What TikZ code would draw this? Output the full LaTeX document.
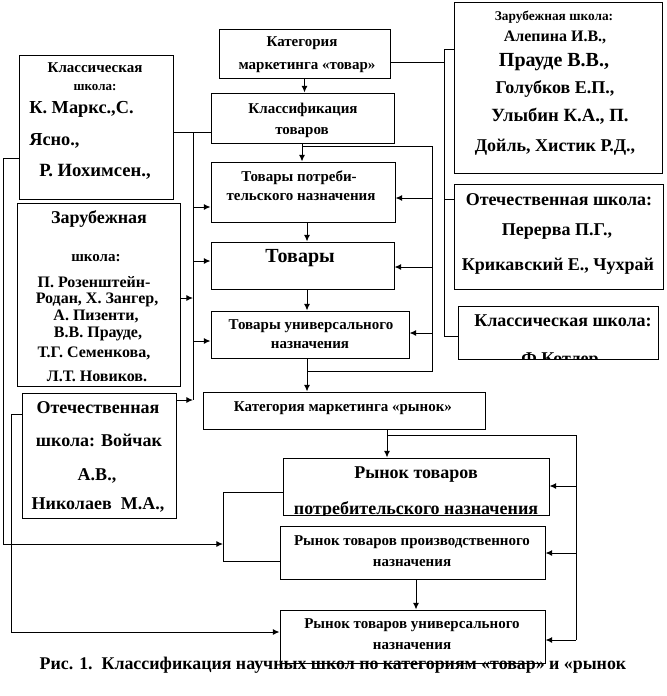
\documentclass[tikz,border=0pt]{standalone}
\usepackage{fontspec}
\setmainfont{Liberation Serif}
\usetikzlibrary{arrows.meta}
\newcounter{tn}
\newcommand\mybox[5]{\node[box,minimum width={(#4-#2)*0.75pt},minimum height={(#5-#3)*0.75pt}] (#1) at ({(#2+#4)/2},{(#3+#5)/2}) {};}
\newcommand\lbl[4]{\stepcounter{tn}\node[txt,font=\bfseries\fontsize{#3}{#3}\selectfont] (t\arabic{tn}) at (#1,#2) {#4};}
\newcommand\lbw[4]{\stepcounter{tn}\node[txt,anchor=west,font=\bfseries\fontsize{#3}{#3}\selectfont] (t\arabic{tn}) at (#1,#2) {#4};}
\begin{document}
\begin{tikzpicture}[x=0.75pt,y=-0.75pt,
  box/.style={draw,line width=0.75pt,inner sep=0pt},
  txt/.style={inner sep=0pt,text height=0.7em,text depth=0.2em},
  conn/.style={line width=0.75pt},
  arr/.style={line width=0.75pt,-{Latex[length=5pt,width=4.5pt]}}]
\useasboundingbox (0,0) rectangle (667,696);
% boxes
\mybox{b1}{219}{29}{390}{78}
\mybox{b2}{211}{93}{394}{143}
\mybox{b3}{211}{162}{395}{222}
\mybox{b4}{211}{242}{394}{289}
\mybox{b5}{211}{311}{409}{358}
\mybox{b6}{203}{392}{485}{429}
\mybox{b7}{283}{458}{549}{515}
\mybox{b8}{280}{526}{545}{579}
\mybox{b9}{280}{610}{545}{663}
\mybox{A}{19}{55}{173}{199}
\mybox{B}{17}{203}{180}{386}
\mybox{C}{22}{393}{176}{518}
\mybox{D}{454}{2}{662}{173}
\mybox{E}{454}{184}{663}{289}
\mybox{F}{458}{306}{658}{359}
% texts
\lbl{302}{43}{11.25pt}{Категория}
\lbl{307}{66}{11.25pt}{маркетинга «товар»}
\lbl{303}{110}{11.25pt}{Классификация}
\lbl{302}{131}{11.25pt}{товаров}
\lbl{299}{178}{11.25pt}{Товары потреби-}
\lbl{301}{197}{11.25pt}{тельского назначения}
\lbl{300}{259}{15pt}{Товары}
\lbl{311}{326}{11.25pt}{Товары универсального}
\lbl{310}{345}{11.25pt}{назначения}
\lbl{343}{408}{11.25pt}{Категория маркетинга «рынок»}
\begin{scope}
\clip (b7.north west) rectangle (b7.south east);
\lbl{416}{475}{13.5pt}{Рынок товаров}
\lbl{416}{511}{13.5pt}{потребительского назначения}
\end{scope}
\lbl{412}{542}{11.25pt}{Рынок товаров производственного}
\lbl{412}{563}{11.25pt}{назначения}
\lbl{412}{625}{11.25pt}{Рынок товаров универсального}
\lbl{412}{646}{11.25pt}{назначения}
% A
\lbl{95}{69}{11.25pt}{Классическая}
\lbl{95}{87}{9.75pt}{школа:}
\lbw{29}{110}{13.75pt}{К. Маркс.,С.}
\lbw{29}{142}{13.75pt}{Ясно.,}
\lbw{39}{173}{14pt}{Р. Иохимсен.,}
% B
\lbl{99}{220}{13.5pt}{Зарубежная}
\lbl{96}{258}{11.25pt}{школа:}
\begin{scope}
\clip (B.north west) rectangle (B.south east);
\lbl{94}{284}{12pt}{П. Розенштейн-}
\lbl{97}{300}{12pt}{Родан, Х. Зангер,}
\lbl{96}{317}{12pt}{А. Пизенти,}
\lbl{98}{334}{12pt}{В.В. Прауде,}
\lbl{94}{354}{12pt}{Т.Г. Семенкова,}
\lbl{97}{378}{12pt}{Л.Т. Новиков.}
\end{scope}
% C
\lbl{98}{410}{13.5pt}{Отечественная}
\lbl{99}{443}{13.5pt}{школа: Войчак}
\lbl{97}{477}{13.5pt}{А.В.,}
\lbl{98}{506}{13.5pt}{Николаев\ \ М.А.,}
% D
\lbl{554}{17}{10pt}{Зарубежная школа:}
\lbl{555}{38}{12pt}{Алепина И.В.,}
\lbl{554}{63}{15pt}{Прауде В.В.,}
\lbl{555}{90}{13.5pt}{Голубков Е.П.,}
\lbl{560}{118}{14pt}{Улыбин К.А., П.}
\lbl{555}{148}{13.5pt}{Дойль, Хистик Р.Д.,}
% E
\lbl{559}{202}{13.5pt}{Отечественная школа:}
\lbl{557}{232}{13.5pt}{Перерва П.Г.,}
\lbl{558}{267}{13.5pt}{Крикавский Е., Чухрай}
% F
\begin{scope}
\clip (F.north west) rectangle (F.south east);
\lbl{563}{323}{13.5pt}{Классическая школа:}
\lbl{560}{361}{13.5pt}{Ф.Котлер}
\end{scope}
% caption
\lbl{333}{666}{13.4pt}{Рис. 1.\ \ Классификация научных школ по категориям «товар» и «рынок}
% connectors: top chain
\draw[arr] (b1.south) -- (b1.south |- b2.north);
\draw[arr] (b2.south -| 302,0) -- (b3.north -| 302,0);
\draw[arr] (b3.south -| 307,0) -- (b4.north -| 307,0);
\draw[arr] (b4.south -| 307,0) -- (b5.north -| 307,0);
\draw[arr] (b5.south -| 307,0) -- (b6.north -| 307,0);
% right column of schools
\draw[conn] (b1.east |- 0,62) -- (444,62);
\draw[conn] (D.west |- 0,49) -- (444,49) -- (444,336) -- (F.west |- 0,336);
\draw[conn] (444,199) -- (E.west |- 0,199);
% left bus x=193
\draw[conn] (A.east |- 0,132) -- (b2.west |- 0,132);
\draw[conn] (193,132) -- (193,400);
\draw[arr] (193,207) -- (b3.west |- 0,207);
\draw[arr] (193,261) -- (b4.west |- 0,261);
\draw[arr] (193,341) -- (b5.west |- 0,341);
\draw[arr] (B.east |- 0,298) -- (193,298);
\draw[arr] (C.east |- 0,400) -- (193,400);
% right bus x=432
\draw[conn] (302,146) -- (432,146) -- (432,371) -- (307,371);
\draw[arr] (432,198) -- (b3.east |- 0,198);
\draw[arr] (432,267) -- (b4.east |- 0,267);
\draw[arr] (432,333) -- (b5.east |- 0,333);
% market part
\draw[arr] (b6.south -| 387,0) -- (b7.north -| 387,0);
\draw[conn] (387,435) -- (576,435) -- (576,640);
\draw[arr] (576,486) -- (b7.east |- 0,486);
\draw[arr] (576,553) -- (b8.east |- 0,553);
\draw[arr] (576,640) -- (b9.east |- 0,640);
\draw[arr] (b8.south -| 416,0) -- (b9.north -| 416,0);
\draw[conn] (b7.west |- 0,492) -- (223,492) -- (223,561) -- (b8.west |- 0,561);
\draw[arr] (A.west |- 0,158) -- (3,158) -- (3,544) -- (223,544);
\draw[arr] (C.west |- 0,414) -- (11,414) -- (11,632) -- (b9.west |- 0,632);
\end{tikzpicture}
\end{document}
